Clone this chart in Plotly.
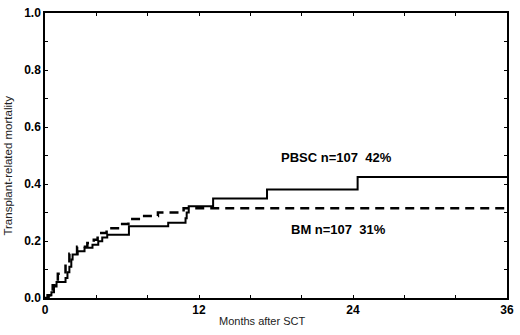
import plotly.graph_objects as go

# PBSC (solid) step curve: months, cumulative TRM
pbsc_months = [0, 0.3, 0.5, 0.7, 0.9, 1.6, 1.75, 1.9, 2.05, 2.15, 2.54, 3.08, 3.7, 4.15, 4.46, 4.85,
               6.54, 9.6, 10.95, 11.04, 11.2, 13.1, 17.3, 24.36, 36]
pbsc_values = [0, 0.01, 0.02, 0.04, 0.056, 0.07, 0.09, 0.11, 0.135, 0.153, 0.164, 0.176, 0.187, 0.199,
               0.212, 0.222, 0.252, 0.264, 0.28, 0.30, 0.322, 0.349, 0.381, 0.425, 0.425]

# BM (dashed) step curve
bm_months = [0, 0.2, 0.4, 0.6, 0.8, 1.0, 1.6, 1.9, 2.5, 3.3, 3.8, 4.1, 4.8, 5.9, 6.5, 7.5, 8.8, 10.8, 36]
bm_values = [0, 0.01, 0.025, 0.045, 0.06, 0.085, 0.12, 0.155, 0.18, 0.193, 0.204, 0.228, 0.245, 0.26,
             0.277, 0.288, 0.30, 0.315, 0.315]

x_ticks = [0, 12, 24, 36]
y_ticks = [0.0, 0.2, 0.4, 0.6, 0.8, 1.0]
y_tick_labels = ["0.0", "0.2", "0.4", "0.6", "0.8", "1.0"]

labels = ["PBSC n=107&nbsp;&nbsp;42%", "BM n=107&nbsp;&nbsp;31%"]

FONT = "Arial, Liberation Sans, Helvetica, sans-serif"

fig = go.Figure()
fig.add_trace(go.Scatter(x=pbsc_months, y=pbsc_values, mode="lines", line_shape="hv",
                         line=dict(color="black", width=2), showlegend=False, hoverinfo="skip"))
fig.add_trace(go.Scatter(x=bm_months, y=bm_values, mode="lines", line_shape="hv",
                         line=dict(color="black", width=2.5, dash="9px,6px"), showlegend=False,
                         hoverinfo="skip"))

fig.add_annotation(x=22.7, y=0.493, text="<b>" + labels[0] + "</b>", showarrow=False,
                   font=dict(family=FONT, size=13, color="black"))
fig.add_annotation(x=22.85, y=0.24, text="<b>" + labels[1] + "</b>", showarrow=False,
                   font=dict(family=FONT, size=13, color="black"))

# axis titles
fig.add_annotation(xref="paper", yref="paper", x=(8 - 45) / 466, y=(298 - 162) / 292,
                   text="Transplant-related mortality",
                   textangle=-90, showarrow=False, xanchor="center", yanchor="middle",
                   font=dict(family=FONT, size=11.5, color="#222"))
fig.add_annotation(xref="paper", yref="paper", x=(264 - 45) / 466, y=(298 - 322) / 292,
                   text="Months after SCT", showarrow=False, xanchor="center", yanchor="middle",
                   font=dict(family=FONT, size=11, color="#222"))

axis_common = dict(showgrid=False, zeroline=False, showline=True, linecolor="black", linewidth=1.5,
                   mirror="allticks", ticks="inside", ticklen=3, tickcolor="black", tickwidth=1,
                   tickfont=dict(family=FONT, size=12, color="black", weight="bold"))

fig.update_xaxes(range=[0, 36], tickvals=x_ticks, ticktext=[str(v) for v in x_ticks],
                 minor=dict(dtick=4, tick0=0, ticks="inside", ticklen=3, tickcolor="black"),
                 ticklabeloverflow="allow", **axis_common)
fig.update_yaxes(range=[0, 1], tickvals=y_ticks, ticktext=y_tick_labels,
                 minor=dict(dtick=0.1, tick0=0, ticks="inside", ticklen=3, tickcolor="black"),
                 **axis_common)

fig.update_layout(width=520, height=335, margin=dict(l=45, r=9, t=6, b=37),
                  plot_bgcolor="white", paper_bgcolor="white")

fig.write_html("out.html", config={"displayModeBar": False},
               post_script="document.body.style.margin='0';")
